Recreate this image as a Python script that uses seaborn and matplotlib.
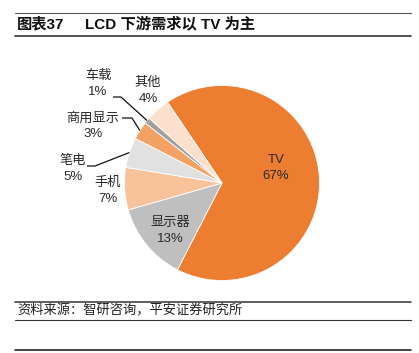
import numpy as np
import matplotlib
matplotlib.use("Agg")
import matplotlib.pyplot as plt
import seaborn as sns

# ---- data ----
categories = ["TV", "显示器", "手机", "笔电", "商用显示", "车载", "其他"]
shares = [67, 13, 7, 5, 3, 1, 4]
colors = ["#ED7D31", "#BFBFBF", "#F8C29B", "#E1E1E1", "#F2A264", "#A0A0A0", "#FBE0CE"]

title_num = "图表37"
title_text = "LCD 下游需求以 TV 为主"
source_text = "资料来源：智研咨询，平安证券研究所"

sns.set_style("white")
# latin glyphs in an Arial-like face, CJK falls through to Noto
plt.rcParams["font.family"] = ["Liberation Sans", "Noto Sans CJK SC", "DejaVu Sans"]

W, H = 419, 353
fig = plt.figure(figsize=(W / 100, H / 100), dpi=100)
ax = fig.add_axes([0, 0, 1, 1])

cx, cy, r = 222, 170, 97.5
start = 124
wedges, _ = ax.pie(shares, colors=colors, startangle=start, counterclock=False,
                   center=(cx, cy), radius=r, frame=True,
                   wedgeprops=dict(edgecolor="white", linewidth=0.6))
ax.set_xlim(0, W)
ax.set_ylim(0, H)
ax.axis("off")

txt_kw = dict(ha="center", va="center", fontsize=9.5, color="#2a2a2a", linespacing=1.4)

# label positions (pixels, y from top)
label_pos = {
    "TV": (276, 168),
    "显示器": (170, 231),
    "手机": (108, 191),
    "笔电": (73, 169),
    "商用显示": (93, 126),
    "车载": (98, 84),
    "其他": (148, 91),
}
for cat, val in zip(categories, shares):
    x, y = label_pos[cat]
    ax.text(x, H - y, f"{cat}\n{val}%", **txt_kw)

# leader lines: text end -> elbow -> wedge edge at mid angle
leaders = {"车载": (113, 121, 97), "商用显示": (122, 132, 118), "笔电": (87, 95, 166)}
for w, cat in zip(wedges, categories):
    if cat in leaders:
        x0, x1, y0 = leaders[cat]
        mid = np.deg2rad((w.theta1 + w.theta2) / 2)
        ex, ey = cx + r * np.cos(mid), cy + r * np.sin(mid)
        ax.plot([x0, x1, ex], [H - y0, H - y0, ey], color="#111111", lw=0.9,
                solid_capstyle="butt", zorder=5)

# header / footer rules
def hline(y, lw, color):
    fig.add_artist(plt.Line2D([15 / W, 411 / W], [1 - y / H, 1 - y / H],
                              color=color, lw=lw, transform=fig.transFigure))

hline(12.5, 0.8, "#555555")
hline(36, 1.2, "#333333")
hline(302, 1.2, "#444444")
hline(320, 0.8, "#333333")
hline(350, 1.1, "#111111")

fig.text(17 / W, 1 - 24 / H, title_num, fontsize=11, fontweight="bold", va="center", color="#111111")
fig.text(85 / W, 1 - 24 / H, title_text, fontsize=11, fontweight="bold", va="center", color="#111111")
fig.text(17 / W, 1 - 311 / H, source_text, fontsize=9.5, va="center", color="#222222", style="italic")

fig.savefig("out.png", dpi=100)
